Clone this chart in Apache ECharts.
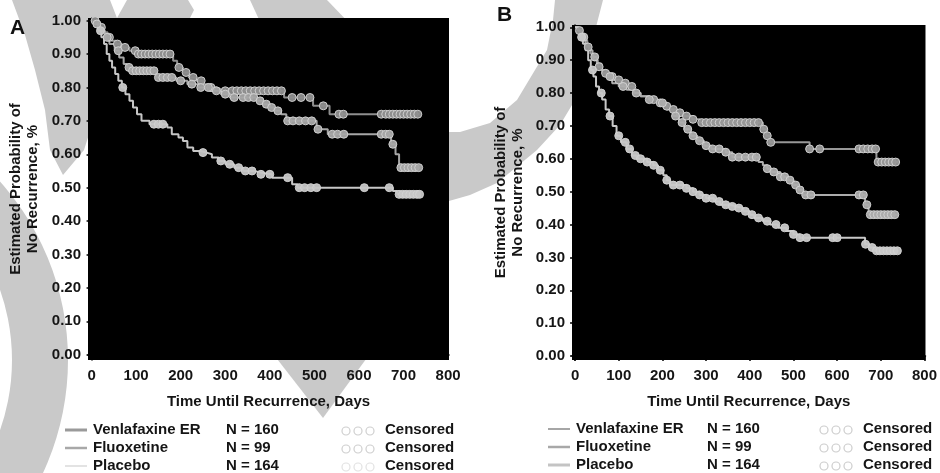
<!DOCTYPE html>
<html><head><meta charset="utf-8">
<script src="https://cdn.jsdelivr.net/npm/echarts@6/dist/echarts.min.js"></script>
<style>html,body{margin:0;padding:0;background:#fff}#c{width:940px;height:473px}</style>
</head><body><div id="c"></div><script>
// ---------- data ----------
const xTicks = [0,100,200,300,400,500,600,700,800];
const yTicks = [0,0.1,0.2,0.3,0.4,0.5,0.6,0.7,0.8,0.9,1.0];
const groupNames = ['Venlafaxine ER','Fluoxetine','Placebo'];
const groupN = [160, 99, 164];
const panelLabels = ['A','B'];
const xTitle = 'Time Until Recurrence, Days';
const yTitle = 'Estimated Probability of\nNo Recurrence, %';

// Panel A – Kaplan-Meier steps [day, probability]
const A_venlafaxine = [[0,1],[12,0.99],[20,0.98],[28,0.965],[36,0.95],[45,0.94],[55,0.93],[68,0.92],[85,0.91],[100,0.90],[183,0.88],[192,0.86],[205,0.845],[218,0.83],[235,0.82],[250,0.81],[262,0.80],[280,0.795],[290,0.79],[432,0.77],[497,0.745],[534,0.72],[736,0.72]];
const A_fluoxetine = [[0,1],[10,0.99],[20,0.97],[30,0.95],[40,0.93],[52,0.91],[62,0.89],[72,0.87],[80,0.86],[88,0.85],[145,0.83],[190,0.82],[215,0.81],[240,0.80],[265,0.79],[290,0.78],[310,0.77],[370,0.76],[385,0.75],[400,0.74],[410,0.73],[425,0.72],[437,0.70],[505,0.675],[530,0.66],[672,0.63],[682,0.60],[690,0.56],[736,0.56]];
const A_placebo = [[0,1],[8,0.99],[15,0.97],[22,0.95],[28,0.93],[34,0.90],[40,0.88],[46,0.86],[53,0.84],[60,0.82],[68,0.80],[76,0.78],[85,0.76],[93,0.74],[102,0.72],[112,0.70],[130,0.69],[170,0.68],[180,0.66],[195,0.65],[205,0.64],[215,0.62],[228,0.61],[245,0.605],[258,0.60],[270,0.59],[285,0.58],[300,0.57],[320,0.56],[340,0.55],[365,0.545],[380,0.54],[405,0.53],[450,0.51],[462,0.50],[676,0.49],[686,0.48],[736,0.48]];
const A_venlafaxineCens = [8,22,40,58,75,98,105,112,120,128,136,144,152,160,168,176,196,212,228,246,268,300,316,326,336,346,356,366,376,386,396,406,416,426,450,470,490,520,555,565,650,660,668,676,684,692,700,708,716,724,732];
const A_fluoxetineCens = [12,35,60,84,92,100,108,116,124,132,140,150,160,170,180,200,225,245,262,280,300,320,340,352,364,378,392,404,418,440,452,466,480,494,508,540,552,566,650,660,668,676,694,702,710,718,726,734];
const A_placeboCens = [20,70,140,150,160,250,290,310,330,345,360,380,400,440,466,478,492,505,612,668,690,698,706,714,722,730,736];

// Panel B
const B_venlafaxine = [[0,1],[8,0.99],[15,0.98],[22,0.96],[28,0.94],[35,0.92],[42,0.90],[52,0.88],[62,0.86],[75,0.85],[90,0.84],[105,0.83],[118,0.82],[135,0.80],[150,0.79],[170,0.78],[187,0.77],[200,0.76],[217,0.75],[232,0.74],[248,0.73],[268,0.72],[286,0.71],[430,0.69],[438,0.67],[446,0.65],[537,0.63],[690,0.59],[740,0.59]];
const B_fluoxetine = [[0,1],[8,0.99],[16,0.97],[24,0.95],[32,0.93],[40,0.91],[50,0.89],[60,0.87],[72,0.85],[85,0.83],[100,0.82],[118,0.81],[135,0.80],[150,0.79],[170,0.78],[190,0.77],[210,0.75],[225,0.73],[238,0.71],[250,0.69],[265,0.67],[280,0.655],[295,0.64],[312,0.63],[345,0.62],[360,0.605],[420,0.59],[430,0.58],[440,0.57],[450,0.56],[470,0.545],[485,0.535],[500,0.52],[512,0.505],[522,0.49],[664,0.46],[672,0.43],[740,0.43]];
const B_placebo = [[0,1],[6,0.99],[12,0.97],[18,0.95],[24,0.93],[30,0.90],[36,0.87],[42,0.85],[48,0.82],[55,0.80],[62,0.78],[70,0.75],[78,0.73],[86,0.70],[95,0.67],[105,0.65],[118,0.63],[130,0.61],[141,0.60],[165,0.59],[179,0.58],[190,0.565],[202,0.55],[210,0.535],[217,0.52],[255,0.51],[270,0.50],[285,0.49],[300,0.48],[318,0.47],[332,0.46],[355,0.455],[370,0.45],[385,0.44],[400,0.43],[410,0.42],[430,0.41],[446,0.40],[465,0.39],[484,0.38],[500,0.37],[514,0.36],[664,0.34],[674,0.33],[684,0.32],[740,0.32]];
const B_venlafaxineCens = [10,30,55,70,85,100,115,130,180,195,210,225,240,255,270,290,300,310,320,330,340,350,360,370,380,390,400,410,420,432,440,448,537,560,650,660,670,680,688,694,702,710,718,726,734];
const B_fluoxetineCens = [20,45,80,110,140,170,200,230,245,258,270,285,300,315,330,345,360,375,390,405,415,440,455,470,480,492,505,515,528,540,650,660,668,676,684,692,700,708,716,724,732];
const B_placeboCens = [15,40,60,80,100,115,125,138,150,165,180,195,210,225,240,255,270,285,300,315,330,345,360,375,390,405,420,440,460,480,500,515,530,590,600,665,680,690,698,706,714,722,730,738];

// ---------- helpers ----------
function stepValue(curve, day){ let v = curve[0][1]; for (const p of curve){ if (p[0] <= day) v = p[1]; else break; } return v; }
function censPoints(curve, days){ return days.map(d => [d, stepValue(curve, d)]); }

const FONT = '"Liberation Sans", Arial, sans-serif';
const TXT = '#151515';
const TOP = 1; // zlevel of chart content, above the watermark layer
const panels = [
  {curves:[A_venlafaxine,A_fluoxetine,A_placebo], cens:[A_venlafaxineCens,A_fluoxetineCens,A_placeboCens],
   colors:['#8e8e8e','#a6a6a6','#c6c6c6'], grid:{left:88,top:18,right:491,bottom:113},
   x:[-8,802], y:[-0.016,1.008], nameGapY:47},
  {curves:[B_venlafaxine,B_fluoxetine,B_placebo], cens:[B_venlafaxineCens,B_fluoxetineCens,B_placeboCens],
   colors:['#979797','#acacac','#c8c8c8'], grid:{left:572,top:25,right:14,bottom:113},
   x:[-7,802.3], y:[-0.0122,1.007], nameGapY:46}
];

const grids=[], xAxes=[], yAxes=[], series=[];
panels.forEach((p,i)=>{
  grids.push(Object.assign({show:true, backgroundColor:'#000', borderWidth:0, zlevel:TOP}, p.grid));
  xAxes.push({type:'value', gridIndex:i, min:p.x[0], max:p.x[1], zlevel:TOP,
    name:xTitle, nameLocation:'middle', nameGap:34,
    nameTextStyle:{fontFamily:FONT, fontWeight:'bold', fontSize:15, color:TXT},
    axisLine:{show:true, lineStyle:{color:'#000', width:1.5}},
    axisTick:{show:true, length:5, customValues:xTicks, lineStyle:{color:'#000', width:1.5}},
    axisLabel:{customValues:xTicks, margin:8, fontFamily:FONT, fontWeight:'bold', fontSize:15, color:TXT},
    splitLine:{show:false}});
  yAxes.push({type:'value', gridIndex:i, min:p.y[0], max:p.y[1], zlevel:TOP,
    name:yTitle, nameLocation:'middle', nameGap:p.nameGapY,
    nameTextStyle:{fontFamily:FONT, fontWeight:'bold', fontSize:15, lineHeight:17, color:TXT, align:'center'},
    axisLine:{show:true, lineStyle:{color:'#000', width:1.5}},
    axisTick:{show:true, length:5, customValues:yTicks, lineStyle:{color:'#000', width:1.5}},
    axisLabel:{customValues:yTicks, margin:7, fontFamily:FONT, fontWeight:'bold', fontSize:15, color:TXT,
      formatter:v=>v.toFixed(2)},
    splitLine:{show:false}});
  p.curves.forEach((c,k)=>{
    series.push({type:'line', name:groupNames[k], xAxisIndex:i, yAxisIndex:i, data:c, step:'end', zlevel:TOP,
      showSymbol:false, lineStyle:{color:p.colors[k], width:2}, z:2, silent:true, animation:false});
  });
  p.curves.forEach((c,k)=>{
    series.push({type:'scatter', xAxisIndex:i, yAxisIndex:i, data:censPoints(c,p.cens[k]), zlevel:TOP,
      symbol:'circle', symbolSize:8,
      itemStyle:{color:p.colors[k], borderColor:'#d2d2d2', borderWidth:1, opacity:0.95},
      z:3+k, silent:true, animation:false});
  });
});

// ---------- decoration (watermark shapes, labels, legend) ----------
const WM = '#c9c9c9';
const graphics = [
  {type:'ring', zlevel:0, shape:{cx:-200, cy:360, r:268, r0:212}, style:{fill:WM}},
  {type:'polygon', zlevel:0, shape:{points:[[12,0],[110,0],[117,18],[117,40],[100,100],[84,150],[63,175],[50,150],[45,110],[35,70],[25,35]]}, style:{fill:WM}},
  {type:'polygon', zlevel:0, shape:{points:[[127,0],[188,0],[194,10],[186,26],[117,26],[117,18]]}, style:{fill:WM}},
  {type:'polygon', zlevel:0, shape:{points:[[250,0],[327,0],[352,26],[262,26]]}, style:{fill:WM}},
  {type:'polygon', zlevel:0, shape:{points:[[274,355],[369,355],[323,418]]}, style:{fill:WM}},
  {type:'polygon', zlevel:0, shape:{points:[[603,0],[590,50],[575,100],[560,125],[537,150],[497,183],[470,195],[449,201],[449,132],[460,132],[490,123],[517,100],[535,70],[547,50],[553,20],[555,0]]}, style:{fill:WM}},
  {type:'text', zlevel:TOP, left:10, top:18, style:{text:panelLabels[0], font:'bold 21px '+FONT, fill:'#111'}},
  {type:'text', zlevel:TOP, left:497, top:5, style:{text:panelLabels[1], font:'bold 21px '+FONT, fill:'#111'}}
];
const legendLayouts = [
  {rows:[430,448,466], line:[65,87], name:93, n:226, circ:[346,358,370], cens:385,
   lineColors:['#9a9a9a','#a8a8a8','#dadada'], lineWidths:[3,2.5,1.5], circColors:['#cfcfcf','#cfcfcf','#e2e2e2']},
  {rows:[429,447,465], line:[548,570], name:576, n:707, circ:[824,836,848], cens:863,
   lineColors:['#a6a6a6','#a8a8a8','#c4c4c4'], lineWidths:[2,2.5,3], circColors:['#cdcdcd','#cdcdcd','#cdcdcd']}
];
legendLayouts.forEach(L=>{
  groupNames.forEach((g,k)=>{
    const y = L.rows[k];
    graphics.push({type:'line', zlevel:TOP, shape:{x1:L.line[0], y1:y, x2:L.line[1], y2:y}, style:{stroke:L.lineColors[k], lineWidth:L.lineWidths[k]}});
    graphics.push({type:'text', zlevel:TOP, x:L.name, y:y, style:{text:g, font:'bold 15px '+FONT, fill:TXT, textVerticalAlign:'middle'}});
    graphics.push({type:'text', zlevel:TOP, x:L.n, y:y, style:{text:'N = '+groupN[k], font:'bold 15px '+FONT, fill:TXT, textVerticalAlign:'middle'}});
    L.circ.forEach(cx=>graphics.push({type:'circle', zlevel:TOP, shape:{cx:cx, cy:y+1, r:4}, style:{fill:'none', stroke:L.circColors[k], lineWidth:1.2}}));
    graphics.push({type:'text', zlevel:TOP, x:L.cens, y:y, style:{text:'Censored', font:'bold 15px '+FONT, fill:TXT, textVerticalAlign:'middle'}});
  });
});

const chart = echarts.init(document.getElementById('c'), null, {renderer:'canvas'});
chart.setOption({
  animation:false,
  backgroundColor:'#fff',
  grid:grids, xAxis:xAxes, yAxis:yAxes, series:series,
  graphic:{elements:graphics}
});
</script></body></html>
